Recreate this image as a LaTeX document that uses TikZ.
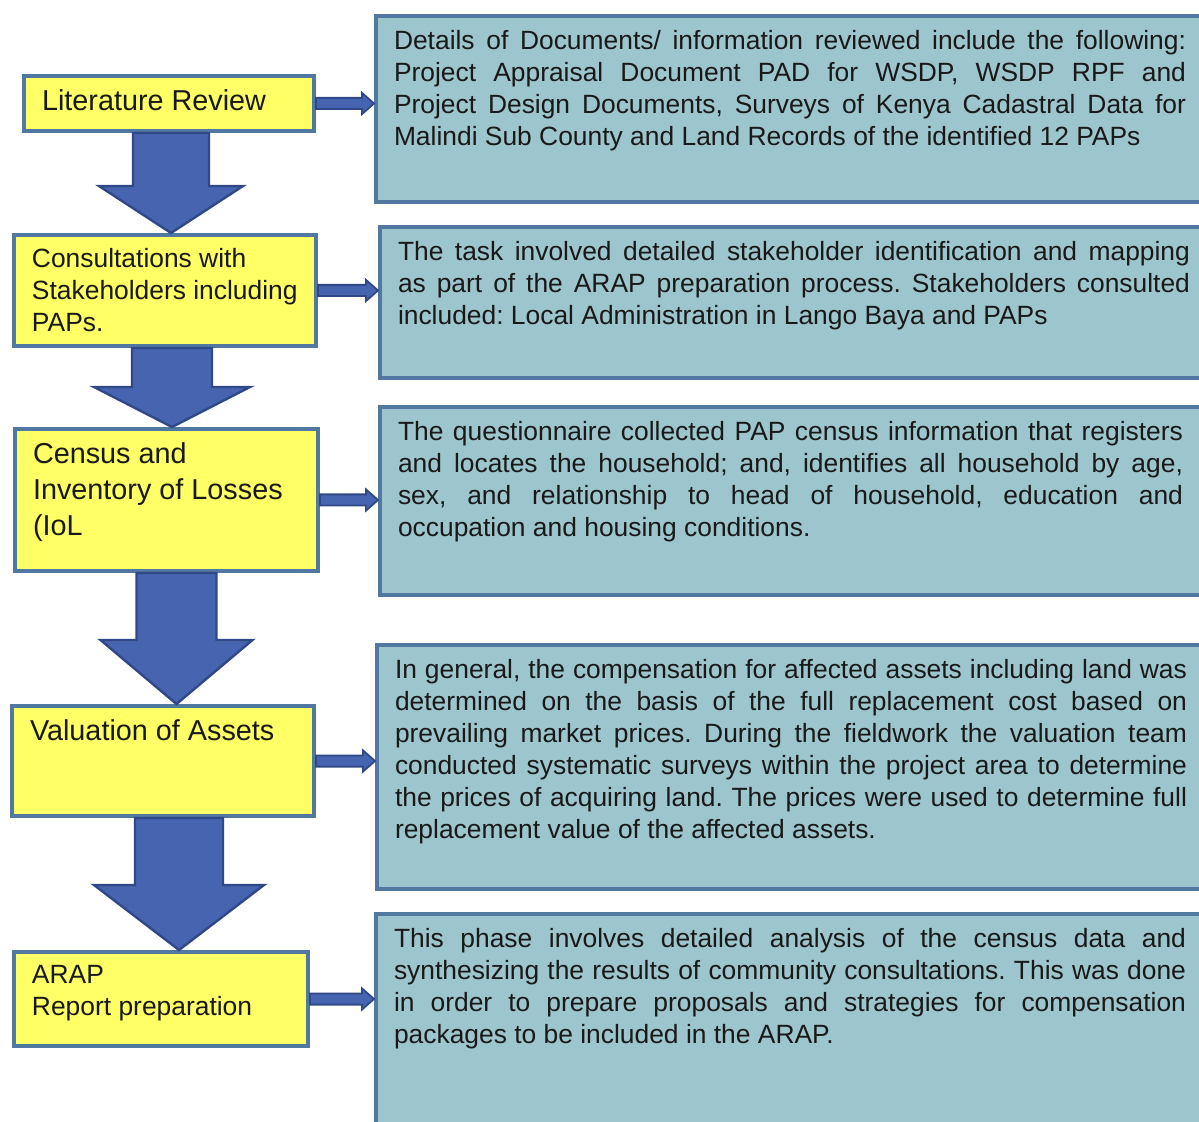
\documentclass[tikz,border=0pt]{standalone}
\usepackage{fontspec}
\setmainfont{Liberation Sans}
\usepackage{tikz}
\usetikzlibrary{calc}
\definecolor{stagey}{RGB}{255,255,102}
\definecolor{notec}{RGB}{157,197,205}
\definecolor{framec}{RGB}{80,120,160}
\definecolor{flowc}{RGB}{70,100,175}
\definecolor{flowedge}{RGB}{48,72,135}
\definecolor{inkc}{RGB}{25,25,25}

\newcommand{\smalltxt}{\fontsize{13.2}{16}\selectfont}
\newcommand{\bigtxt}{\fontsize{14.4}{18}\selectfont}
\hyphenpenalty=10000
\tolerance=9999
\frenchspacing

\tikzset{
  stage/.style={draw=framec, line width=2.2pt, fill=stagey, anchor=north west,
                inner xsep=8.9pt, inner ysep=6.6pt, text=inkc},
  note/.style={draw=framec, line width=2.2pt, fill=notec, anchor=north west,
               inner xsep=8.9pt, inner ysep=6.9pt, text=inkc, font=\smalltxt},
  bigflow/.style={fill=flowc, draw=flowedge, line width=1.2pt},
  sideflow/.style={fill=flowc, draw=flowedge, line width=0.9pt}
}

\begin{document}
\begin{tikzpicture}[x=0.5pt,y=-0.5pt]
  \useasboundingbox (0,0) rectangle (1199,1122);
  \clip (0,0) rectangle (1199,1122);

  % steps of the study
  \node[stage,font=\bigtxt] (lit) at (22,74)
    {\parbox[c][14.1pt][t]{127pt}{\raggedright Literature Review}};
  \node[stage,font=\smalltxt] (consult) at (12,233)
    {\parbox[c][42.1pt][t]{133pt}{\raggedright Consultations with\\ Stakeholders including\\ PAPs.}};
  \node[stage,font=\bigtxt] (census) at (13,427)
    {\parbox[c][57.6pt][t]{133.5pt}{\raggedright Census and\\ Inventory of Losses\\ (IoL}};
  \node[stage,font=\bigtxt] (valuation) at (10,704)
    {\parbox[c][41.6pt][t]{133pt}{\raggedright Valuation of Assets}};
  \node[stage,font=\smalltxt] (arap) at (12,950)
    {\parbox[c][33.6pt][t]{129pt}{\raggedright ARAP\\ Report preparation}};

  % what each step covered
  \node[note] (litnote) at (374,14)
    {\parbox[c][79pt][t]{396pt}{Details of Documents/ information reviewed include the following:\linebreak
     Project Appraisal Document PAD for WSDP, WSDP RPF and\linebreak
     Project Design Documents, Surveys of Kenya Cadastral Data for\linebreak
     Malindi Sub County and Land Records of the identified 12 PAPs}};
  \node[note] (consultnote) at (378,225)
    {\parbox[c][61.5pt][t]{396pt}{The task involved detailed stakeholder identification and mapping\linebreak
     as part of the ARAP preparation process. Stakeholders consulted\linebreak
     included: Local Administration in Lango Baya and PAPs}};
  \node[note] (censusnote) at (378,405)
    {\parbox[c][80pt][t]{392.5pt}{The questionnaire collected PAP census information that registers\linebreak
     and locates the household; and, identifies all household by age,\linebreak
     sex, and relationship to head of household, education and\linebreak
     occupation and housing conditions.}};
  \node[note] (valnote) at (375,643)
    {\parbox[c][108pt][t]{396pt}{In general, the compensation for affected assets including land was\linebreak
     determined on the basis of the full replacement cost based on\linebreak
     prevailing market prices. During the fieldwork the valuation team\linebreak
     conducted systematic surveys within the project area to determine\linebreak
     the prices of acquiring land. The prices were used to determine full\linebreak
     replacement value of the affected assets.}};
  \node[note] (arapnote) at (374,912)
    {\parbox[c][99pt][t]{396pt}{This phase involves detailed analysis of the census data and\linebreak
     synthesizing the results of community consultations. This was done\linebreak
     in order to prepare proposals and strategies for compensation\linebreak
     packages to be included in the ARAP.}};

  % block arrows down the left column
  \foreach \src/\dst/\dx/\sw/\hw/\hl in {lit/consult/1pt/19pt/36pt/23.5pt,
      consult/census/3.5pt/20pt/39pt/20pt, census/valuation/5pt/20pt/38pt/32pt,
      valuation/arap/8pt/22pt/42.5pt/32.5pt}
    \draw[bigflow] let \p1=(\src.south), \p2=(\dst.north) in
      (\x1+\dx-\sw,\y1) -- (\x1+\dx+\sw,\y1) -- (\x1+\dx+\sw,\y2+\hl)
      -- (\x1+\dx+\hw,\y2+\hl) -- (\x1+\dx,\y2) -- (\x1+\dx-\hw,\y2+\hl)
      -- (\x1+\dx-\sw,\y2+\hl) -- cycle;

  % small arrows into the notes
  \foreach \src/\dst in {lit/litnote, consult/consultnote, census/censusnote,
      valuation/valnote, arap/arapnote}
    \draw[sideflow] let \p1=(\src.east), \p2=(\dst.west) in
      (\x1,\y1+2.8pt) -- (\x2-6pt,\y1+2.8pt) -- (\x2-6pt,\y1+5.3pt) -- (\x2,\y1)
      -- (\x2-6pt,\y1-5.3pt) -- (\x2-6pt,\y1-2.8pt) -- (\x1,\y1-2.8pt) -- cycle;
\end{tikzpicture}
\end{document}
